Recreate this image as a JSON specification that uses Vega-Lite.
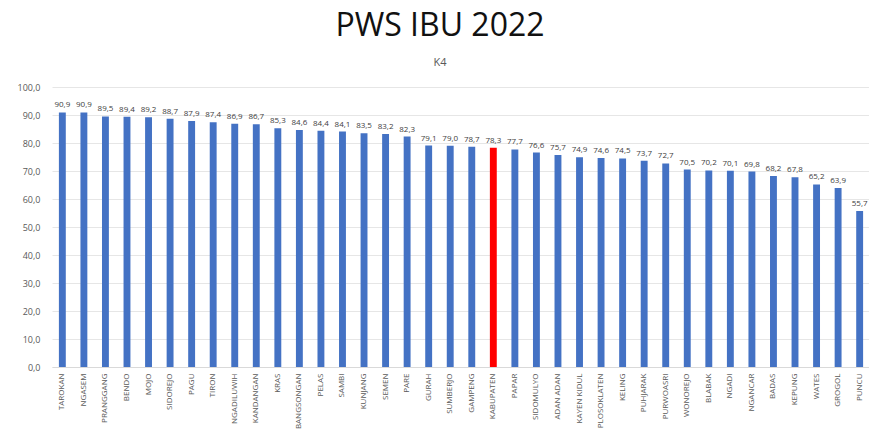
{
  "$schema": "https://vega.github.io/schema/vega-lite/v6.json",
  "autosize": {"type": "none"},
  "padding": {"left": 52, "top": 87, "right": 0, "bottom": 68},
  "width": 818,
  "height": 280,
  "background": "white",
  "config": {
    "locale": {"number": {"decimal": ",", "thousands": ".", "grouping": [3], "currency": ["", ""]}},
    "view": {"stroke": null},
    "font": "Open Sans"
  },
  "title": {
    "text": "PWS IBU 2022",
    "subtitle": "K4",
    "fontSize": 32,
    "fontWeight": "normal",
    "font": "Open Sans",
    "color": "#111111",
    "subtitleFontSize": 11,
    "subtitleColor": "#595959",
    "subtitleFont": "Open Sans",
    "subtitlePadding": 14,
    "anchor": "middle",
    "dx": -21,
    "offset": 14
  },
  "data": {
    "values": [
      {"wilayah": "TAROKAN", "v": 90.9},
      {"wilayah": "NGASEM", "v": 90.9},
      {"wilayah": "PRANGGANG", "v": 89.5},
      {"wilayah": "BENDO", "v": 89.4},
      {"wilayah": "MOJO", "v": 89.2},
      {"wilayah": "SIDOREJO", "v": 88.7},
      {"wilayah": "PAGU", "v": 87.9},
      {"wilayah": "TIRON", "v": 87.4},
      {"wilayah": "NGADILUWIH", "v": 86.9},
      {"wilayah": "KANDANGAN", "v": 86.7},
      {"wilayah": "KRAS", "v": 85.3},
      {"wilayah": "BANGSONGAN", "v": 84.6},
      {"wilayah": "PELAS", "v": 84.4},
      {"wilayah": "SAMBI", "v": 84.1},
      {"wilayah": "KUNJANG", "v": 83.5},
      {"wilayah": "SEMEN", "v": 83.2},
      {"wilayah": "PARE", "v": 82.3},
      {"wilayah": "GURAH", "v": 79.1},
      {"wilayah": "SUMBERJO", "v": 79.0},
      {"wilayah": "GAMPENG", "v": 78.7},
      {"wilayah": "KABUPATEN", "v": 78.3},
      {"wilayah": "PAPAR", "v": 77.7},
      {"wilayah": "SIDOMULYO", "v": 76.6},
      {"wilayah": "ADAN ADAN", "v": 75.7},
      {"wilayah": "KAYEN KIDUL", "v": 74.9},
      {"wilayah": "PLOSOKLATEN", "v": 74.6},
      {"wilayah": "KELING", "v": 74.5},
      {"wilayah": "PUHJARAK", "v": 73.7},
      {"wilayah": "PURWOASRI", "v": 72.7},
      {"wilayah": "WONOREJO", "v": 70.5},
      {"wilayah": "BLABAK", "v": 70.2},
      {"wilayah": "NGADI", "v": 70.1},
      {"wilayah": "NGANCAR", "v": 69.8},
      {"wilayah": "BADAS", "v": 68.2},
      {"wilayah": "KEPUNG", "v": 67.8},
      {"wilayah": "WATES", "v": 65.2},
      {"wilayah": "GROGOL", "v": 63.9},
      {"wilayah": "PUNCU", "v": 55.7}
    ]
  },
  "encoding": {
    "x": {
      "field": "wilayah",
      "type": "nominal",
      "sort": null,
      "scale": {"paddingInner": 0.68, "paddingOuter": 0.32},
      "axis": {
        "title": null,
        "labelAngle": -90,
        "labelFontSize": 8,
        "labelColor": "#595959",
        "labelPadding": 6,
        "ticks": false,
        "domainColor": "#d9d9d9",
        "labelFont": "Open Sans",
        "labelOverlap": false
      }
    },
    "y": {
      "field": "v",
      "type": "quantitative",
      "scale": {"domain": [0, 100]},
      "axis": {
        "title": null,
        "format": ".1f",
        "values": [0, 10, 20, 30, 40, 50, 60, 70, 80, 90, 100],
        "labelFontSize": 9,
        "labelColor": "#595959",
        "gridColor": "#e6e6e6",
        "domain": false,
        "ticks": false,
        "labelPadding": 12,
        "labelOverlap": false
      }
    }
  },
  "layer": [
    {
      "mark": {"type": "bar"},
      "encoding": {
        "color": {
          "condition": {"test": "datum.wilayah === 'KABUPATEN'", "value": "#ff0000"},
          "value": "#4472c4"
        }
      }
    },
    {
      "mark": {"type": "text", "dy": -7, "fontSize": 8, "color": "#404040"},
      "encoding": {
        "text": {"field": "v", "type": "quantitative", "format": ".1f"}
      }
    }
  ]
}
